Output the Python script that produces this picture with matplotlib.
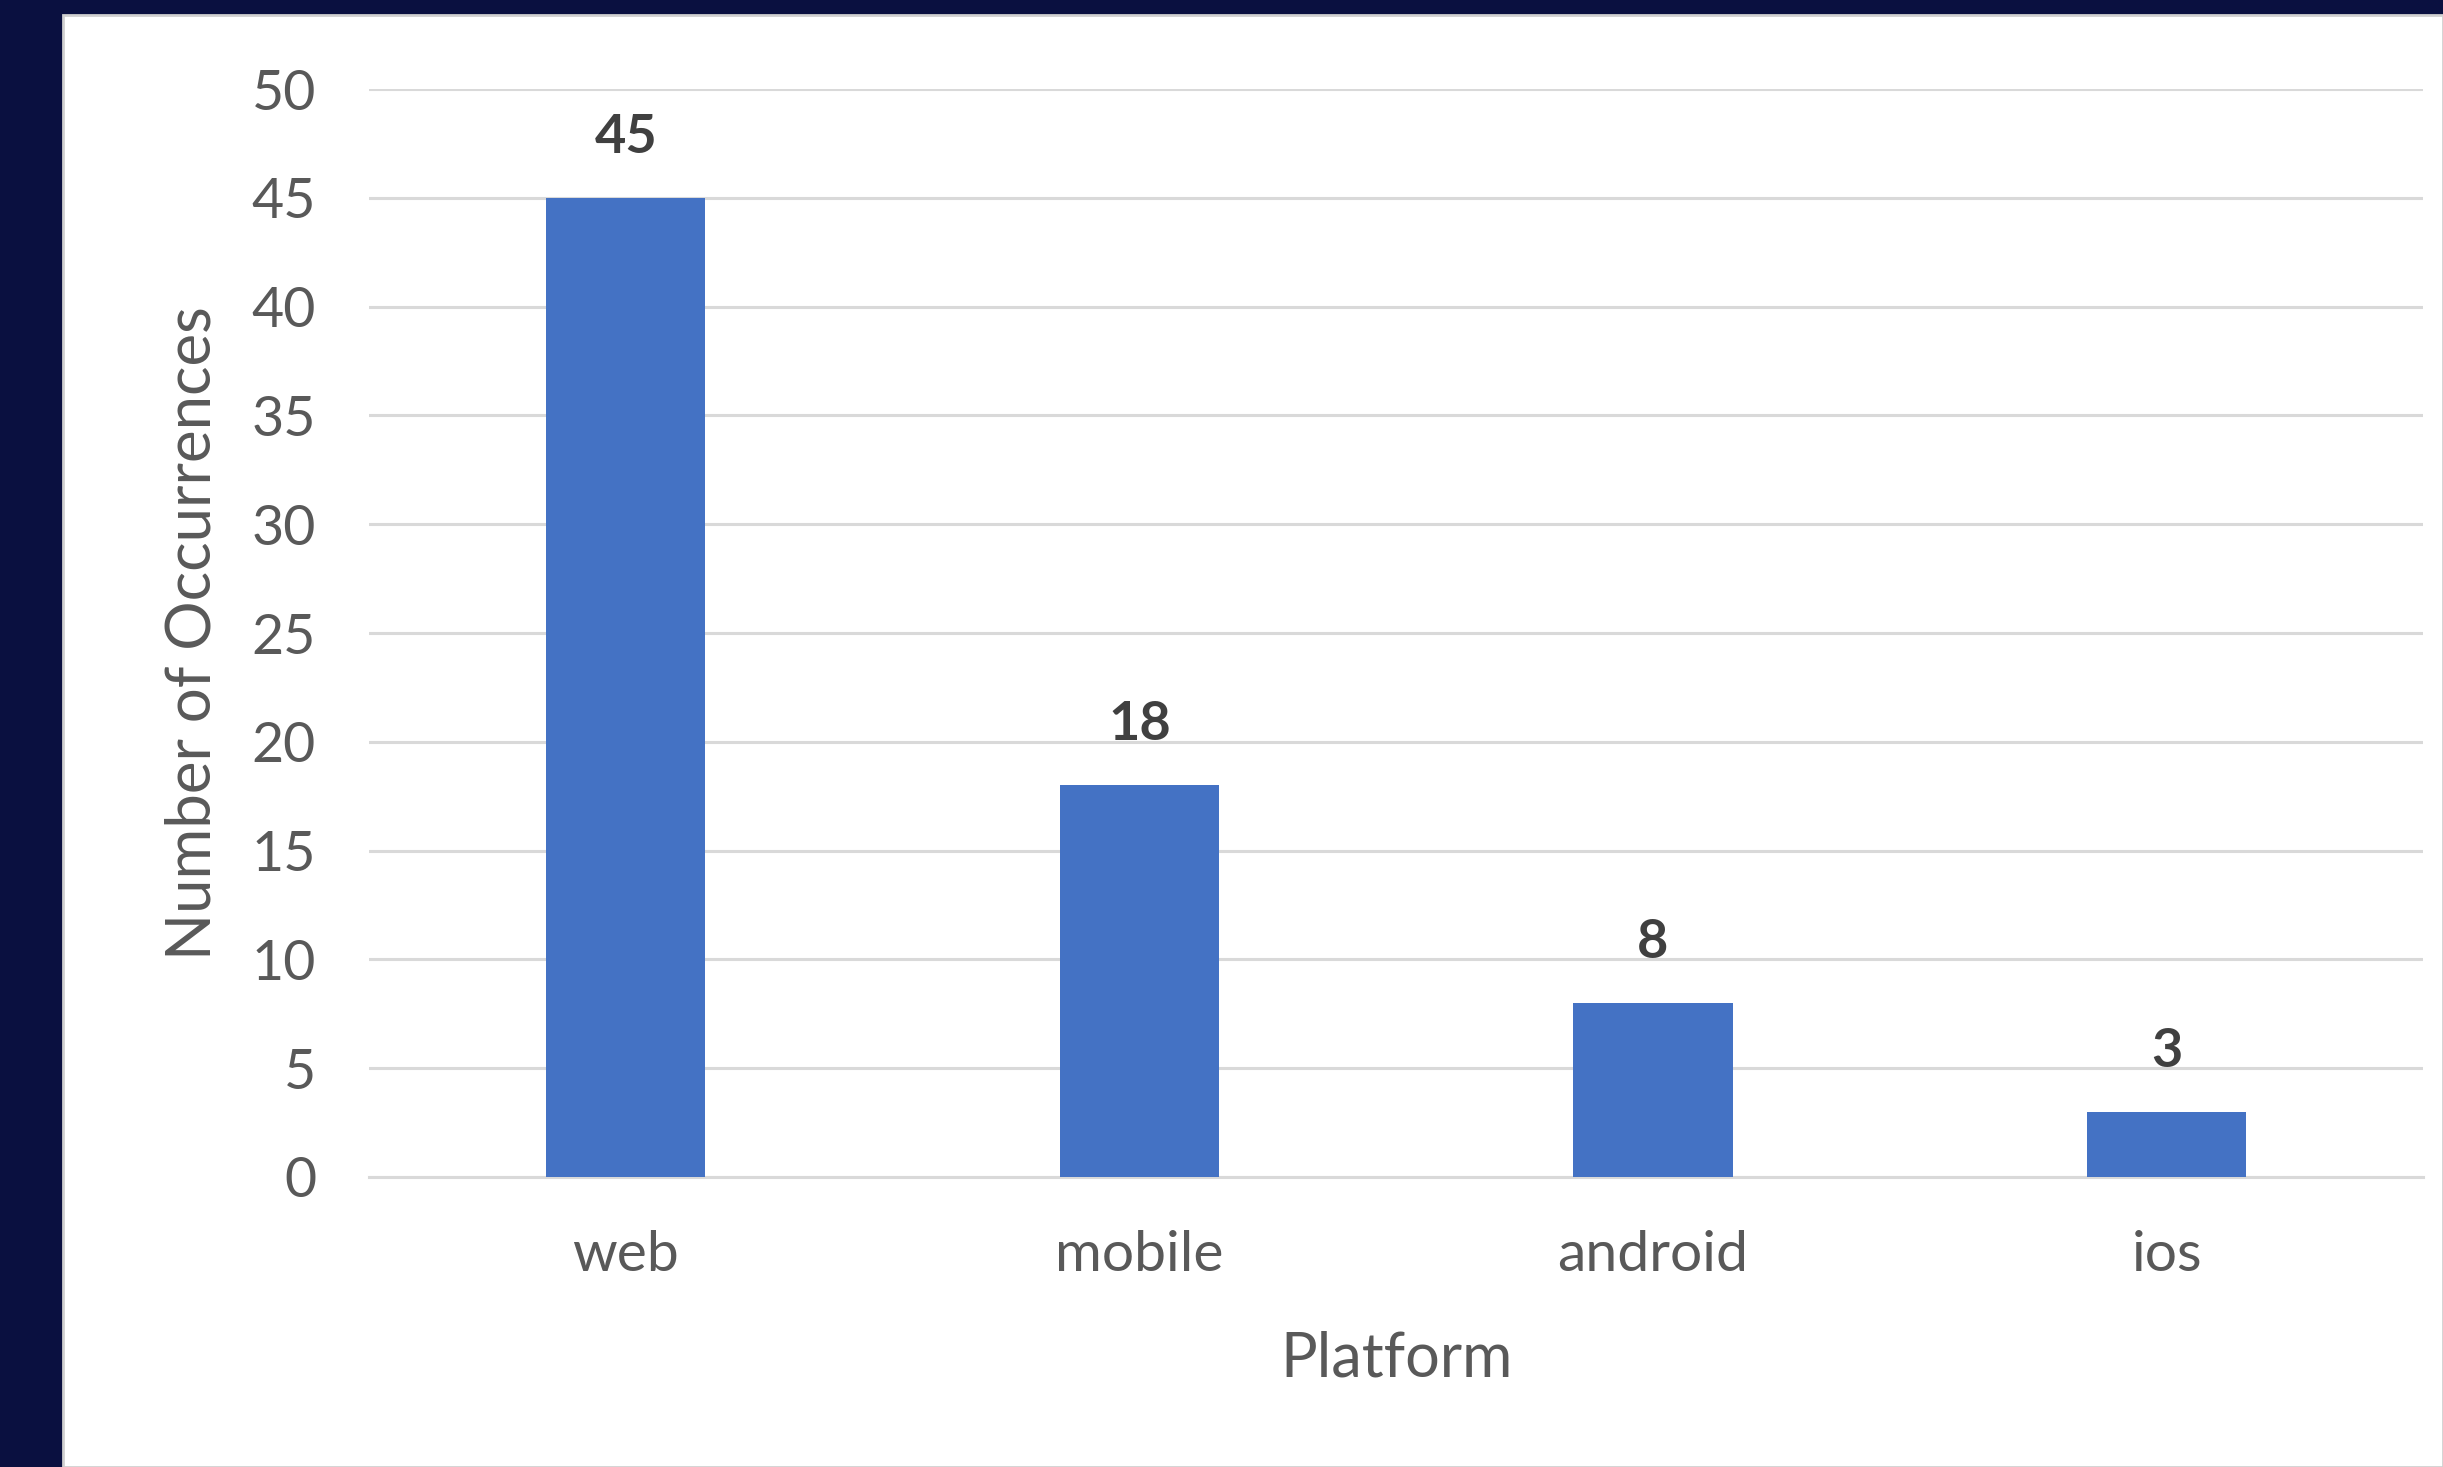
import matplotlib.pyplot as plt
from matplotlib.patches import Rectangle

# data
platforms = ['web', 'mobile', 'android', 'ios']
counts = [45, 18, 8, 3]
yticks = [0, 5, 10, 15, 20, 25, 30, 35, 40, 45, 50]

bar_color = '#4472C4'
navy = '#0A1040'

plt.rcParams['font.family'] = ['Lato', 'DejaVu Sans']

fig = plt.figure(figsize=(24.43, 14.67), dpi=100)
fig.patch.set_facecolor(navy)

# white chart panel sitting on the dark slide
panel = Rectangle((63 / 2443, 0), 1 - 63 / 2443, 1 - 15 / 1467,
                  transform=fig.transFigure, facecolor='white',
                  edgecolor='#d0d0d0', linewidth=2, zorder=-10)
fig.patches.append(panel)

ax = fig.add_axes([0.151, 0.1977, 0.841, 0.7416])
ax.set_facecolor('none')

x = range(len(platforms))
bars = ax.bar(x, counts, width=0.31, color=bar_color, zorder=3)

for xi, c in zip(x, counts):
    ax.annotate(str(c), (xi, c), xytext=(0, 26), textcoords='offset points',
                ha='center', va='bottom', fontsize=39, fontweight='bold',
                color='#404040')

ax.set_xlim(-0.5, len(platforms) - 0.5)
ax.set_ylim(0, 50)
ax.set_yticks(yticks)
ax.set_xticks(list(x))
ax.set_xticklabels(platforms)

ax.grid(axis='y', color='#d9d9d9', linewidth=2.2, zorder=0)
ax.set_axisbelow(True)
for s in ['top', 'right', 'left']:
    ax.spines[s].set_visible(False)
ax.spines['bottom'].set_color('#d9d9d9')
ax.spines['bottom'].set_linewidth(2.2)

ax.tick_params(axis='both', length=0, labelsize=40, colors='#595959')
ax.tick_params(axis='x', labelsize=41, pad=38)
ax.tick_params(axis='y', pad=38)

ax.set_xlabel('Platform', fontsize=44, color='#595959', labelpad=36)
ax.set_ylabel('Number of Occurrences', fontsize=44.5, color='#595959', labelpad=22)

fig.savefig('out.png', dpi=100, facecolor=fig.get_facecolor())
